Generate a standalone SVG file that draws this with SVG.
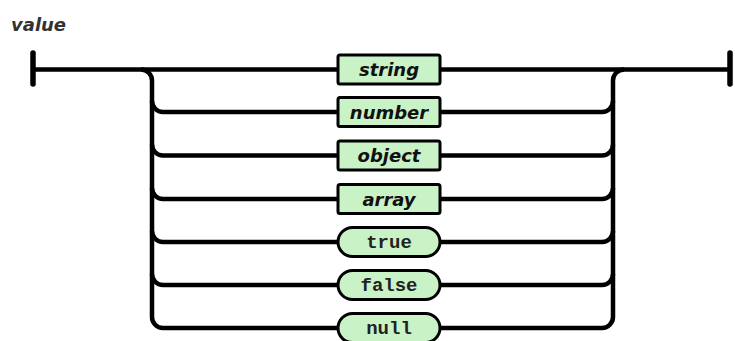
<svg xmlns="http://www.w3.org/2000/svg" width="735" height="341" viewBox="0 0 735 341">
<style>
.w{fill:none;stroke:#000;stroke-width:4.5;stroke-linecap:butt}
.bar{stroke:#000;stroke-width:5.5;stroke-linecap:round}
.box{fill:#c9f3c6;stroke:#000;stroke-width:3}
.nt{font-family:"DejaVu Sans",sans-serif;font-weight:bold;font-style:italic;font-size:18px;fill:#111;text-anchor:middle}
.lt{font-family:"Liberation Mono","Courier New",monospace;font-weight:bold;font-size:19px;fill:#222;text-anchor:middle}
</style>
<rect width="735" height="341" fill="#fff"/>
<text x="11" y="31" font-family="DejaVu Sans, sans-serif" font-weight="bold" font-style="italic" font-size="18" fill="#333">value</text>
<g id="connectors">
<line class="bar" x1="33" y1="53" x2="33" y2="84"/>
<line class="bar" x1="730" y1="53" x2="730" y2="84"/>
<path class="w" d="M33,69.5 H338 M440,69.5 H730"/>
<path class="w" d="M141,69.5 A11,11 0 0 1 152,80.5 V317 A11,11 0 0 0 163,328 H338"/>
<path class="w" d="M152,101 A11,11 0 0 0 163,112 H338"/>
<path class="w" d="M152,144.5 A11,11 0 0 0 163,155.5 H338"/>
<path class="w" d="M152,188 A11,11 0 0 0 163,199 H338"/>
<path class="w" d="M152,231 A11,11 0 0 0 163,242 H338"/>
<path class="w" d="M152,274 A11,11 0 0 0 163,285 H338"/>
<path class="w" d="M440,328 H602 A11,11 0 0 0 613,317 V80.5 A11,11 0 0 1 624,69.5"/>
<path class="w" d="M440,112 H602 A11,11 0 0 0 613,101"/>
<path class="w" d="M440,155.5 H602 A11,11 0 0 0 613,144.5"/>
<path class="w" d="M440,199 H602 A11,11 0 0 0 613,188"/>
<path class="w" d="M440,242 H602 A11,11 0 0 0 613,231"/>
<path class="w" d="M440,285 H602 A11,11 0 0 0 613,274"/>
</g>
<g id="string"><rect class="box" x="338" y="55" width="102" height="29" rx="2"/><text class="nt" x="389" y="76">string</text></g>
<g id="number"><rect class="box" x="338" y="97.5" width="102" height="29" rx="2"/><text class="nt" x="389" y="118.5">number</text></g>
<g id="object"><rect class="box" x="338" y="141" width="102" height="29" rx="2"/><text class="nt" x="389" y="162">object</text></g>
<g id="array"><rect class="box" x="338" y="184.5" width="102" height="29" rx="2"/><text class="nt" x="389" y="205.5">array</text></g>
<g id="true"><rect class="box" x="338" y="227.5" width="102" height="29" rx="14.5"/><text class="lt" x="389" y="248">true</text></g>
<g id="false"><rect class="box" x="338" y="270.5" width="102" height="29" rx="14.5"/><text class="lt" x="389" y="291">false</text></g>
<g id="null"><rect class="box" x="338" y="313.5" width="102" height="29" rx="14.5"/><text class="lt" x="389" y="334">null</text></g>
</svg>
